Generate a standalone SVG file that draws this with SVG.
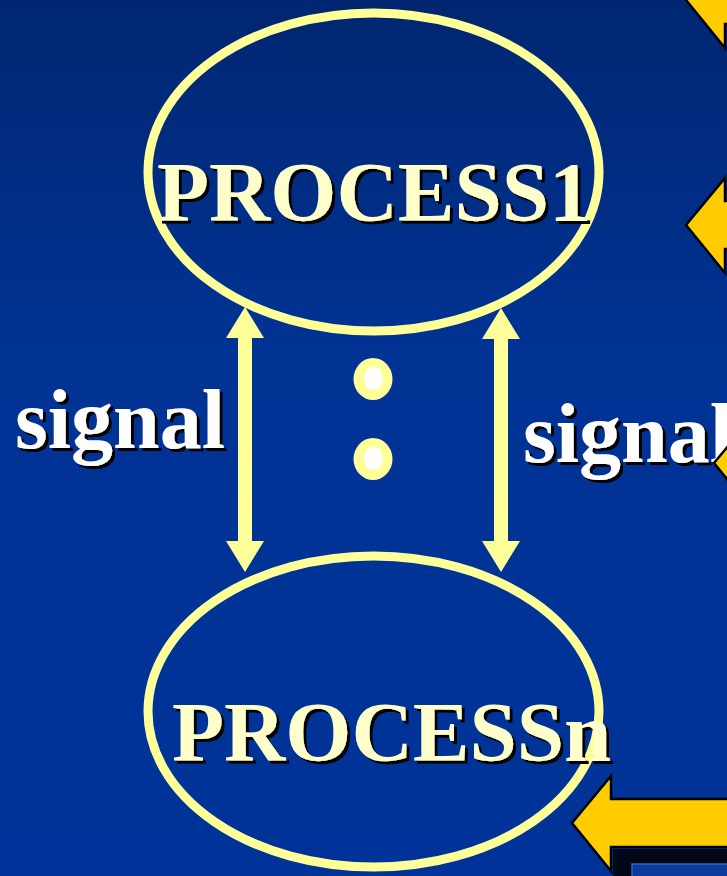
<svg xmlns="http://www.w3.org/2000/svg" width="727" height="876" viewBox="0 0 727 876">
  <defs>
    <linearGradient id="bg" x1="0" y1="0" x2="0" y2="1">
      <stop offset="0" stop-color="#002671"/>
      <stop offset="0.4" stop-color="#003394"/>
      <stop offset="1" stop-color="#003399"/>
    </linearGradient>
    <filter id="drop" x="-5%" y="-10%" width="115%" height="130%">
      <feDropShadow dx="3" dy="3" stdDeviation="0" flood-color="#000000" flood-opacity="1"/>
    </filter>
    <marker id="head" viewBox="0 0 31 38" refX="1" refY="19" markerWidth="31" markerHeight="38" markerUnits="userSpaceOnUse" orient="auto-start-reverse">
      <path d="M0,0 L31,19 L0,38 Z" fill="#FFFF99"/>
    </marker>
    <!-- left-pointing block arrow, tip at origin -->
    <path id="blockArrow" d="M0,0 L39,-47 L39,-24 L160,-24 L160,24 L39,24 L39,48 Z"/>
  </defs>
  <style>
    .proc { fill: none; stroke: #FFFF99; stroke-width: 9; }
    .title { font-family: "Liberation Serif", "Times New Roman", serif; font-weight: bold; font-size: 85px; fill: #FFFFCC; filter: url(#drop); }
    .label { font-family: "Liberation Serif", "Times New Roman", serif; font-weight: bold; font-size: 84px; fill: #FFFFFF; filter: url(#drop); }
    .conn { stroke: #FFFF99; stroke-width: 14; fill: none; marker-start: url(#head); marker-end: url(#head); }
    .side { fill: #FFCC00; stroke: #000000; stroke-width: 2.5; stroke-linejoin: miter; }
  </style>

  <rect x="0" y="0" width="727" height="876" fill="url(#bg)"/>

  <!-- process nodes -->
  <g id="process1">
    <ellipse class="proc" cx="373.5" cy="172" rx="225.5" ry="159"/>
    <text class="title" x="157" y="221">PROCESS1</text>
  </g>
  <g id="processN">
    <ellipse class="proc" cx="373.5" cy="711.5" rx="225.5" ry="155.5"/>
    <text class="title" x="172" y="761">PROCESSn</text>
  </g>

  <!-- ellipsis between the processes -->
  <g id="ellipsis">
    <ellipse cx="373" cy="379" rx="19.5" ry="21" fill="#FFFF99"/>
    <ellipse cx="373.5" cy="378.5" rx="9.5" ry="11.5" fill="#FFFFFF"/>
    <ellipse cx="373" cy="459" rx="19.5" ry="21" fill="#FFFF99"/>
    <ellipse cx="373.5" cy="458.5" rx="9.5" ry="11.5" fill="#FFFFFF"/>
  </g>

  <!-- signal connectors -->
  <g id="connectors">
    <line class="conn" x1="245" y1="337" x2="245" y2="542"/>
    <line class="conn" x1="501" y1="338" x2="501" y2="542"/>
  </g>

  <g id="signal-left">
    <text class="label" x="15" y="448">signal</text>
  </g>
  <g id="signal-right">
    <text class="label" x="523" y="462">signal</text>
  </g>

  <!-- block arrows along the right edge -->
  <g id="side-arrows">
    <use href="#blockArrow" class="side" transform="translate(686,0)"/>
    <use href="#blockArrow" class="side" transform="translate(686,225)"/>
    <use href="#blockArrow" class="side" transform="translate(714,463)"/>
    <path d="M613,849 L727,849 L727,876 L613,876 Z" fill="#000818"/>
    <rect x="632" y="864" width="100" height="20" fill="#0A3A9E" stroke="#3A62C0" stroke-width="1.5"/>
    <use href="#blockArrow" class="side" transform="translate(572,823)"/>
  </g>
</svg>
